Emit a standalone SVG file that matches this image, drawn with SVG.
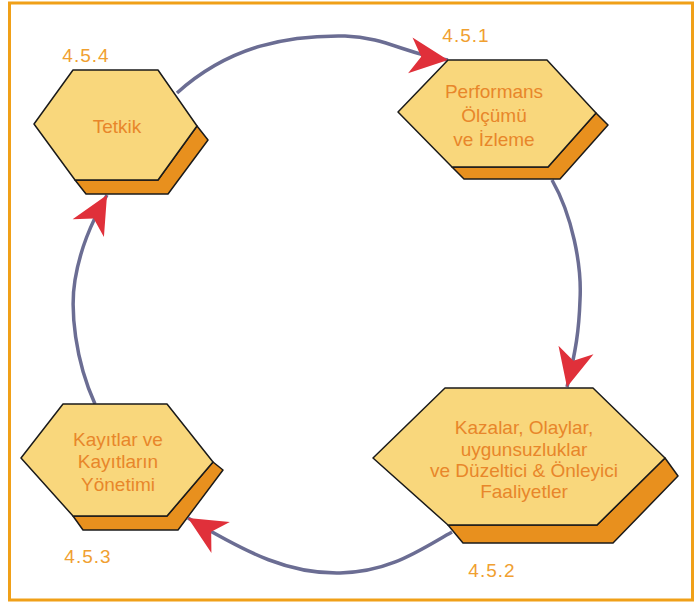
<svg xmlns="http://www.w3.org/2000/svg" width="695" height="604" viewBox="0 0 695 604">
<defs>
<style>
.face{fill:#f9d77c;stroke:#1a1a1a;stroke-width:1.5;stroke-linejoin:round}
.side{fill:#e8901e;stroke:#1a1a1a;stroke-width:1.5;stroke-linejoin:round}
.txt{font-family:"Liberation Sans",Arial,sans-serif;font-size:19px;fill:#e8862a;text-anchor:middle}
.lbl{font-family:"Liberation Sans",Arial,sans-serif;font-size:19px;fill:#f0a030;text-anchor:middle;letter-spacing:1px}
.conn{fill:none;stroke:#6b6d93;stroke-width:3.5;marker-end:url(#arr)}
</style>
<marker id="arr" viewBox="-40 -20 42 40" refX="0" refY="0" markerWidth="42" markerHeight="40" markerUnits="userSpaceOnUse" orient="auto">
<path d="M0,0 L-38,-18 L-27,0 L-38,18 Z" fill="#e0303a"/>
</marker>
</defs>
<rect x="9.5" y="3" width="683" height="597" fill="#ffffff" stroke="#f0a018" stroke-width="3"/>
<g id="connectors">
<path class="conn" d="M177,93 C230,45 290,35 345,36 C385,37 408,55 448,60"/>
<path class="conn" d="M552,180 C572,215 582,265 580,300 C579,330 576,350 567,387"/>
<path class="conn" d="M452,532 C420,550 390,572 340,573 C290,574 250,555 188,518"/>
<path class="conn" d="M95,404 C75,360 70,310 75,280 C80,250 90,225 107,195"/>
</g>
<g id="node-454">
<polygon class="side" points="75,180 86,194 168,194 208,140 197,126 158,180"/>
<polygon class="face" points="73,70 158,70 197,126 158,180 75,180 34,124"/>
<text class="txt" x="117" y="133">Tetkik</text>
<text class="lbl" x="86" y="62">4.5.4</text>
</g>
<g id="node-451">
<polygon class="side" points="452,167 464,179 560,179 608,125 596,113 548,167"/>
<polygon class="face" points="448,60 547,60 596,113 548,167 452,167 398,112"/>
<text class="txt" x="494" y="98">Performans</text>
<text class="txt" x="494" y="122">Ölçümü</text>
<text class="txt" x="494" y="146">ve İzleme</text>
<text class="lbl" x="466" y="42">4.5.1</text>
</g>
<g id="node-452">
<polygon class="side" points="448,525 463,543 613,543 678,476 665,458 597,525"/>
<polygon class="face" points="445,388 593,388 665,458 597,525 448,525 373,458"/>
<text class="txt" x="524" y="434">Kazalar, Olaylar,</text>
<text class="txt" x="524" y="456">uygunsuzluklar</text>
<text class="txt" x="524" y="477">ve Düzeltici &amp; Önleyici</text>
<text class="txt" x="524" y="498">Faaliyetler</text>
<text class="lbl" x="492" y="577">4.5.2</text>
</g>
<g id="node-453">
<polygon class="side" points="73,516 83,530 178,530 223,470 213,462 167,516"/>
<polygon class="face" points="63,404 167,404 213,462 167,516 73,516 21,458"/>
<text class="txt" x="118" y="446">Kayıtlar ve</text>
<text class="txt" x="118" y="468">Kayıtların</text>
<text class="txt" x="118" y="491">Yönetimi</text>
<text class="lbl" x="88" y="563">4.5.3</text>
</g>
</svg>
